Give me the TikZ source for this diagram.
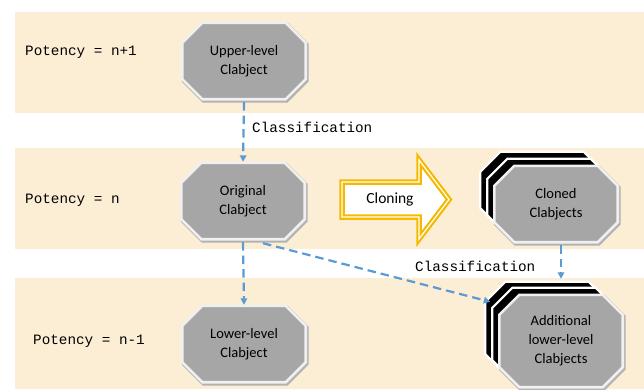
\documentclass[tikz,border=0pt]{standalone}
\usepackage{fontspec}
\setmainfont{Carlito}
\newfontfamily\monofam{Liberation Mono}
\usetikzlibrary{arrows.meta}
\definecolor{bandcol}{RGB}{251,238,213}
\definecolor{octgray}{RGB}{166,166,166}
\definecolor{octrim}{RGB}{240,240,240}
\definecolor{arrblue}{RGB}{91,155,213}
\definecolor{gold}{RGB}{245,186,0}
\pgfdeclarelayer{bg}
\pgfdeclarelayer{mid}
\pgfsetlayers{bg,mid,main}
\newcommand\myoct[3]{%
  \path[#2] ([xshift=#3]#1.north west) -- ([xshift=-#3]#1.north east) -- ([yshift=-#3]#1.north east) -- ([yshift=#3]#1.south east) -- ([xshift=-#3]#1.south east) -- ([xshift=#3]#1.south west) -- ([yshift=#3]#1.south west) -- ([yshift=-#3]#1.north west) -- cycle;}
\tikzset{
  octbox/.style={inner sep=0pt, minimum width=123pt, minimum height=76pt, align=center, font=\fontsize{14.5}{19}\selectfont},
  frontoct/.style={fill=octgray, draw=octrim, line width=2.6pt, line join=miter},
  shadowoct/.style={draw=black!30, fill=black!30, line width=3.5pt, transform canvas={shift={(1.2pt,-1.6pt)}}},
  backoct/.style={fill=black, draw=white, line width=2.2pt},
  potlabel/.style={anchor=west, inner sep=0pt, font=\monofam\fontsize{14.3}{16}\selectfont},
  cls/.style={arrblue, line width=2.2pt, dash pattern=on 8.5pt off 5pt, -{Triangle[length=6.5pt,width=6.5pt]}},
}
\begin{document}
\begin{tikzpicture}[x=1pt,y=-1pt]
\useasboundingbox (0,0) rectangle (644,389);
\begin{pgfonlayer}{bg}
  \fill[bandcol] (15,12) rectangle (644,113);
  \fill[bandcol] (15,148) rectangle (644,249);
  \fill[bandcol] (15,278) rectangle (644,389);
\end{pgfonlayer}

\node[potlabel] (p1) at (25,52) {Potency = n+1};
\node[potlabel] (p0) at (25,200) {Potency = n};
\node[potlabel] (pm) at (33,341) {Potency = n-1};

\node[octbox] (upper) at (244,61) {Upper-level\\Clabject};
\node[octbox] (orig) at (243,201) {Original\\Clabject};
\node[octbox] (lower) at (244,344) {Lower-level\\Clabject};

\node[octbox] (cloneB2) at (542,190) {};
\node[octbox] (cloneB1) at (549,197) {};
\node[octbox] (clone) at (556,204) {Cloned\\Clabjects};

\node[octbox, minimum height=92pt] (addB2) at (547,328) {};
\node[octbox, minimum height=92pt] (addB1) at (554,334) {};
\node[octbox, minimum height=92pt] (add) at (561,341) {Additional\\lower-level\\Clabjects};

\begin{pgfonlayer}{mid}
  \foreach \n in {upper,orig,lower}{\myoct{\n}{shadowoct}{20pt}\myoct{\n}{frontoct}{20pt}}
  \myoct{cloneB2}{backoct}{20pt}
  \myoct{cloneB1}{backoct}{20pt}
  \myoct{clone}{shadowoct}{20pt}
  \myoct{clone}{frontoct}{20pt}
  \myoct{addB2}{backoct}{20pt}
  \myoct{addB1}{backoct}{20pt}
  \myoct{add}{shadowoct}{20pt}
  \myoct{add}{frontoct}{20pt}
\end{pgfonlayer}

% cloning block arrow
\coordinate (cl0) at (342,182);
\path[fill=white, draw=gold, line width=5.5pt, line join=miter]
  (cl0) -- (419,182) -- (419,160) -- (449,199.5) -- (419,239) -- (419,217) -- (342,217) -- cycle;
\path[draw=white, line width=1.2pt, line join=miter]
  (cl0) -- (419,182) -- (419,160) -- (449,199.5) -- (419,239) -- (419,217) -- (342,217) -- cycle;
\node[font=\fontsize{15.5}{18}\selectfont, inner sep=0pt] (clonetxt) at (390,199) {Cloning};

% classification connectors
\draw[cls] ([yshift=-3pt]upper.south) -- ([yshift=1pt]orig.north);
\node[potlabel] (c1) at (252,127) {Classification};
\draw[cls] ([yshift=-3pt]orig.south) -- ([yshift=1pt]lower.north);
\draw[cls] ([xshift=20pt,yshift=-4pt]orig.south) -- ([xshift=5pt,yshift=-20pt]addB2.north west);
\draw[cls] ([yshift=-3pt]clone.south -| add.north) -- ([yshift=3pt]add.north |- addB2.north);
\node[potlabel] (c2) at (415,266) {Classification};
\end{tikzpicture}
\end{document}
